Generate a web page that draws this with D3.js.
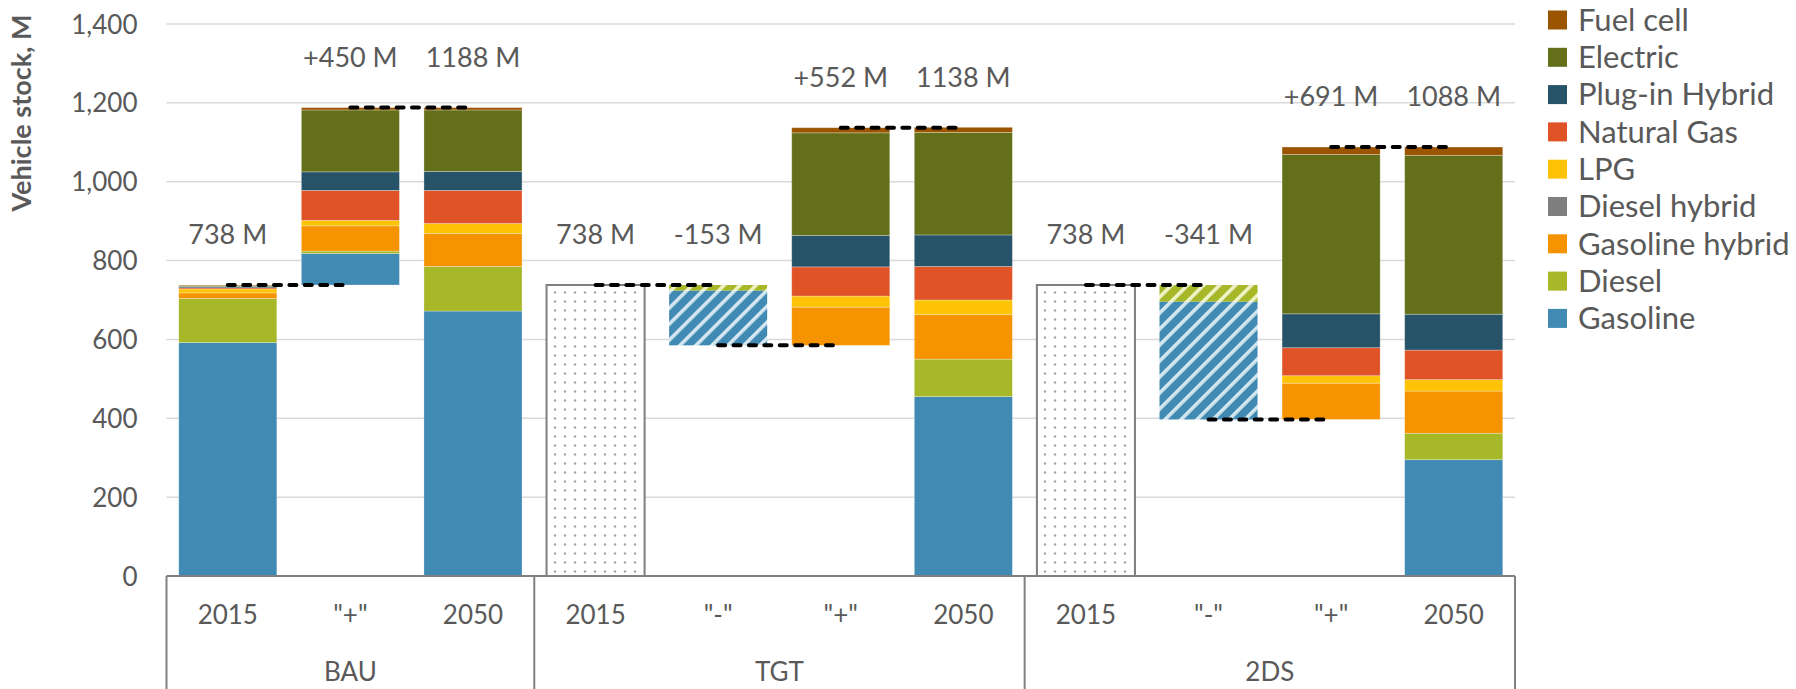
<!DOCTYPE html>
<html>
<head>
<meta charset="utf-8" />
<title>vehicle stock</title>
<script src="https://cdn.jsdelivr.net/npm/d3@7"></script>
<style>
  body { margin: 0; background: #fff; }
  text { font-family: Lato, "Open Sans", sans-serif; fill: #595959; }
</style>
</head>
<body>
<svg width="1796" height="689"></svg>
<script>
// fuel types, bottom of the stack first
var fuels = ["Gasoline", "Diesel", "Gasoline hybrid", "Diesel hybrid", "LPG", "Natural Gas", "Plug-in Hybrid", "Electric", "Fuel cell"];
var fuelColors = ["#418ab3", "#a6b727", "#f59300", "#7f7f7f", "#fec306", "#df5327", "#275369", "#646f19", "#9b5400"];
var hatchColors = ["#d3e6f0", "#eef2c4"];

var scenarios = ["BAU", "TGT", "2DS"];
var catScenario = ["BAU", "BAU", "BAU", "TGT", "TGT", "TGT", "TGT", "2DS", "2DS", "2DS", "2DS"];
var catLabels = ["2015", "\"+\"", "2050", "2015", "\"-\"", "\"+\"", "2050", "2015", "\"-\"", "\"+\"", "2050"];
// bar kind: start = solid stack from 0, base = dotted 2015 total, minus / plus = step, end = 2050 stack
var catKind = ["start", "plus", "end", "base", "minus", "plus", "end", "base", "minus", "plus", "end"];

// values in million vehicles, same order as fuels
var bau2015 = [592, 112, 14, 0, 10, 3, 3, 2, 2];
var bauPlus = [80, 6, 64, 0, 14, 76, 47, 157, 6];
var bau2050 = [672, 113, 84, 0, 25, 84, 48, 156, 6];
var tgtBase = [738];
var tgtMinus = [139, 14, 0, 0, 0, 0, 0, 0, 0];
var tgtPlus = [0, 0, 97, 0, 28, 74, 80, 260, 13];
var tgt2050 = [455, 95, 113, 0, 37, 85, 80, 260, 13];
var twoBase = [738];
var twoMinus = [299, 42, 0, 0, 0, 0, 0, 0, 0];
var twoPlus = [0, 0, 92, 0, 19, 71, 86, 404, 19];
var two2050 = [295, 67, 107, 0, 29, 75, 91, 403, 21];

var yTicks = [0, 200, 400, 600, 800, 1000, 1200, 1400];

var barValues = [bau2015, bauPlus, bau2050, tgtBase, tgtMinus, tgtPlus, tgt2050, twoBase, twoMinus, twoPlus, two2050];

var svg = d3.select("svg");
var plot = {left: 166.5, right: 1515, top: 24, bottom: 576};

var x = d3.scaleBand()
  .domain(d3.range(catLabels.length))
  .range([plot.left, plot.right])
  .paddingInner(0.2)
  .paddingOuter(0.1);

var y = d3.scaleLinear().domain([0, 1400]).range([plot.bottom, plot.top]);

// patterns
var defs = svg.append("defs");
var dots = defs.append("pattern")
  .attr("id", "dots").attr("patternUnits", "userSpaceOnUse")
  .attr("width", 10).attr("height", 9);
dots.append("rect").attr("width", 10).attr("height", 9).attr("fill", "#fff");
dots.append("circle").attr("cx", 5).attr("cy", 4.5).attr("r", 1.2).attr("fill", "#a3a3a3");

[0, 1].forEach(function(i) {
  var p = defs.append("pattern")
    .attr("id", "hatch" + i).attr("patternUnits", "userSpaceOnUse")
    .attr("width", 11.3).attr("height", 11.3)
    .attr("patternTransform", "rotate(45)");
  p.append("rect").attr("width", 11.3).attr("height", 11.3).attr("fill", fuelColors[i]);
  p.append("rect").attr("width", 3.6).attr("height", 11.3).attr("fill", hatchColors[i]);
});

// gridlines
svg.append("g")
  .selectAll("line")
  .data(yTicks.filter(function(d) { return d > 0; }))
  .enter().append("line")
  .attr("x1", plot.left).attr("x2", plot.right)
  .attr("y1", function(d) { return y(d); }).attr("y2", function(d) { return y(d); })
  .attr("stroke", "#d9d9d9").attr("stroke-width", 1.5);

// y axis labels
var yAxis = svg.append("g")
  .attr("transform", "translate(" + (plot.left - 29) + ",0)")
  .call(d3.axisLeft(y).tickValues(yTicks).tickSize(0).tickPadding(0).tickFormat(d3.format(",")));
yAxis.select(".domain").remove();
yAxis.selectAll("text")
  .attr("font-size", 26).attr("dy", "0.35em")
  .style("font-family", "Lato, sans-serif").attr("fill", "#595959");

svg.append("text")
  .attr("transform", "translate(22,113) rotate(-90)")
  .attr("text-anchor", "middle").attr("dy", "0.35em")
  .attr("font-size", 27).attr("font-weight", "bold")
  .text("Vehicle stock, M");

// work out each bar's floor and segments
var bars = [];
var level = 0;
barValues.forEach(function(vals, i) {
  var kind = catKind[i];
  var total = d3.sum(vals);
  var floor, label;
  if (kind === "start" || kind === "end" || kind === "base") {
    floor = 0; level = total; label = total + " M";
  } else if (kind === "plus") {
    floor = level; level = level + total; label = "+" + total + " M";
  } else {
    floor = level - total; level = floor; label = "-" + total + " M";
  }
  var segs = [];
  var acc = floor;
  vals.forEach(function(v, f) {
    if (kind !== "base" && v > 0) segs.push({fuel: f, y0: acc, y1: acc + v});
    acc += v;
  });
  bars.push({i: i, kind: kind, floor: floor, top: floor + total, end: level, label: label, segs: segs});
});

var barG = svg.append("g");

bars.forEach(function(b) {
  if (b.kind === "base") {
    barG.append("rect")
      .attr("x", x(b.i)).attr("width", x.bandwidth())
      .attr("y", y(b.top)).attr("height", y(b.floor) - y(b.top))
      .attr("fill", "url(#dots)")
      .attr("stroke", "#7f7f7f").attr("stroke-width", 2);
    return;
  }
  barG.selectAll(".s" + b.i)
    .data(b.segs)
    .enter().append("rect")
    .attr("x", x(b.i)).attr("width", x.bandwidth())
    .attr("y", function(d) { return y(d.y1); })
    .attr("height", function(d) { return y(d.y0) - y(d.y1); })
    .attr("fill", function(d) {
      return b.kind === "minus" ? "url(#hatch" + d.fuel + ")" : fuelColors[d.fuel];
    })
    .attr("stroke", b.kind === "minus" ? "none" : "rgba(255,255,255,0.35)")
    .attr("stroke-width", 0.8);
});

// dashed connectors between steps of the same scenario
var links = [];
for (var i = 0; i < bars.length - 1; i++) {
  if (catScenario[i] === catScenario[i + 1]) links.push({from: i, to: i + 1, v: bars[i].end});
}
svg.append("g")
  .selectAll("line")
  .data(links)
  .enter().append("line")
  .attr("x1", function(d) { return x(d.from) + x.bandwidth() / 2; })
  .attr("x2", function(d) { return x(d.to) + x.bandwidth() / 2; })
  .attr("y1", function(d) { return y(d.v); })
  .attr("y2", function(d) { return y(d.v); })
  .attr("stroke", "#000").attr("stroke-width", 4)
  .attr("stroke-linecap", "round")
  .attr("stroke-dasharray", "7,8.4");

// value labels
svg.append("g")
  .selectAll("text")
  .data(bars)
  .enter().append("text")
  .attr("x", function(d) { return x(d.i) + x.bandwidth() / 2; })
  .attr("y", function(d) { return y(d.top) - 50; })
  .attr("text-anchor", "middle").attr("dy", "0.35em")
  .attr("font-size", 27)
  .text(function(d) { return d.label; });

// category axis
var axisG = svg.append("g");
axisG.append("line")
  .attr("x1", plot.left).attr("x2", plot.right)
  .attr("y1", plot.bottom).attr("y2", plot.bottom)
  .attr("stroke", "#808080").attr("stroke-width", 2);

axisG.selectAll(".cat")
  .data(catLabels)
  .enter().append("text")
  .attr("x", function(d, i) { return x(i) + x.bandwidth() / 2; })
  .attr("y", 615).attr("dy", "0.35em")
  .attr("text-anchor", "middle").attr("font-size", 26)
  .text(function(d) { return d; });

var groups = scenarios.map(function(s) {
  var idx = d3.range(catScenario.length).filter(function(i) { return catScenario[i] === s; });
  var x0 = x(idx[0]) - x.step() * x.paddingInner() / 2;
  var x1 = x(idx[idx.length - 1]) + x.bandwidth() + x.step() * x.paddingInner() / 2;
  return {name: s, x0: x0, x1: x1};
});

var seps = [groups[0].x0].concat(groups.map(function(g) { return g.x1; }));
axisG.selectAll(".sep")
  .data(seps)
  .enter().append("line")
  .attr("x1", function(d) { return d; }).attr("x2", function(d) { return d; })
  .attr("y1", plot.bottom).attr("y2", 689)
  .attr("stroke", "#808080").attr("stroke-width", 2);

axisG.selectAll(".grp")
  .data(groups)
  .enter().append("text")
  .attr("x", function(d) { return (d.x0 + d.x1) / 2; })
  .attr("y", 672).attr("dy", "0.35em")
  .attr("text-anchor", "middle").attr("font-size", 26)
  .text(function(d) { return d.name; });

// legend, top of stack first
var legendItems = fuels.map(function(f, i) { return {name: f, color: fuelColors[i]}; }).reverse();
var legend = svg.append("g").attr("transform", "translate(1548,20)");
var rows = legend.selectAll("g")
  .data(legendItems)
  .enter().append("g")
  .attr("transform", function(d, i) { return "translate(0," + (i * 37.3) + ")"; });
rows.append("rect")
  .attr("x", 0).attr("y", -9.5).attr("width", 19).attr("height", 19)
  .attr("fill", function(d) { return d.color; });
rows.append("text")
  .attr("x", 30).attr("dy", "0.35em")
  .attr("font-size", 31)
  .text(function(d) { return d.name; });
</script>
</body>
</html>
